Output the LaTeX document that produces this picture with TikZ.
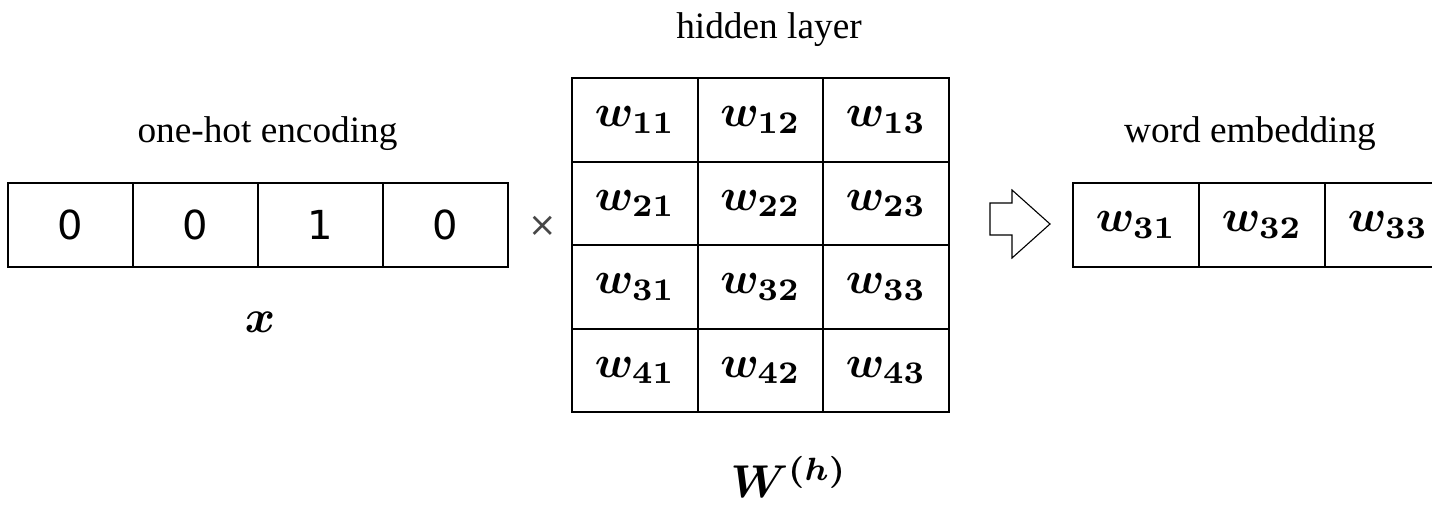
\documentclass[tikz,border=0pt]{standalone}
\usepackage{amsmath}
\usepackage{graphicx}
\usepackage{fontspec}
\setmainfont{Liberation Serif}
\newfontfamily\digitfont{DejaVu Sans}
% bold math, magnified from the 10pt design size
\newcommand\bigbold[2]{\scalebox{#1}{\boldmath$#2$}}
\begin{document}
\begin{tikzpicture}[x=1pt,y=-1pt,
  cellbox/.style={draw, line width=1.7pt, inner sep=0pt, anchor=center},
  vcell/.style={cellbox, minimum width=125pt, minimum height=84pt,
    font=\digitfont\fontsize{40}{48}\selectfont},
  wcell/.style={cellbox, minimum width=125.5pt, minimum height=83.5pt},
  ecell/.style={cellbox, minimum width=126pt, minimum height=84pt},
  caption/.style={anchor=base, inner sep=0pt, font=\fontsize{37.3}{44}\selectfont},
  mathlabel/.style={inner sep=0pt},
  blockarrow/.style={draw, line width=1.1pt, line join=miter}
]
\useasboundingbox (0,0) rectangle (1432,505);
\clip (0,0) rectangle (1432,505);

% one-hot input vector
\node[vcell] (x1) at (70.5,225) {0};
\node[vcell] (x2) at (195.5,225) {0};
\node[vcell] (x3) at (320.5,225) {1};
\node[vcell] (x4) at (445.5,225) {0};
\node[caption] (xcap) at (267.5,143) {one-hot encoding};
\node[mathlabel] (xsym) at (260,322) {\bigbold{4.6}{x}};

% multiplication sign
\node[inner sep=0pt, text=black!72, font=\digitfont\fontsize{34}{40}\selectfont] (times) at (543,226) {×};

% hidden-layer weight matrix
\foreach \r/\y in {1/120,2/203.5,3/287,4/370.5}{
  \foreach \c/\x in {1/635,2/760.5,3/886}{
    \node[wcell] (w\r\c) at (\x,\y) {\bigbold{4.5}{w_{\r\c}}};
  }
}
\node[caption] (wcap) at (769,39) {hidden layer};
\node[mathlabel, anchor=base] (wsym) at (789,497) {\bigbold{4.6}{W^{(h)}}};

% hollow block arrow
\draw[blockarrow] (990,203) coordinate (a1) -- (1012,203) -- (1012,190)
  -- (1050,224) coordinate (tip) -- (1012,258) -- (1012,235) -- (990,235) -- cycle;

% resulting word embedding
\node[ecell] (e1) at (1136,225) {\bigbold{4.5}{w_{31}}};
\node[ecell] (e2) at (1262,225) {\bigbold{4.5}{w_{32}}};
\node[ecell] (e3) at (1388,225) {\bigbold{4.5}{w_{33}}};
\node[caption] (ecap) at (1250,143) {word embedding};
\end{tikzpicture}
\end{document}
